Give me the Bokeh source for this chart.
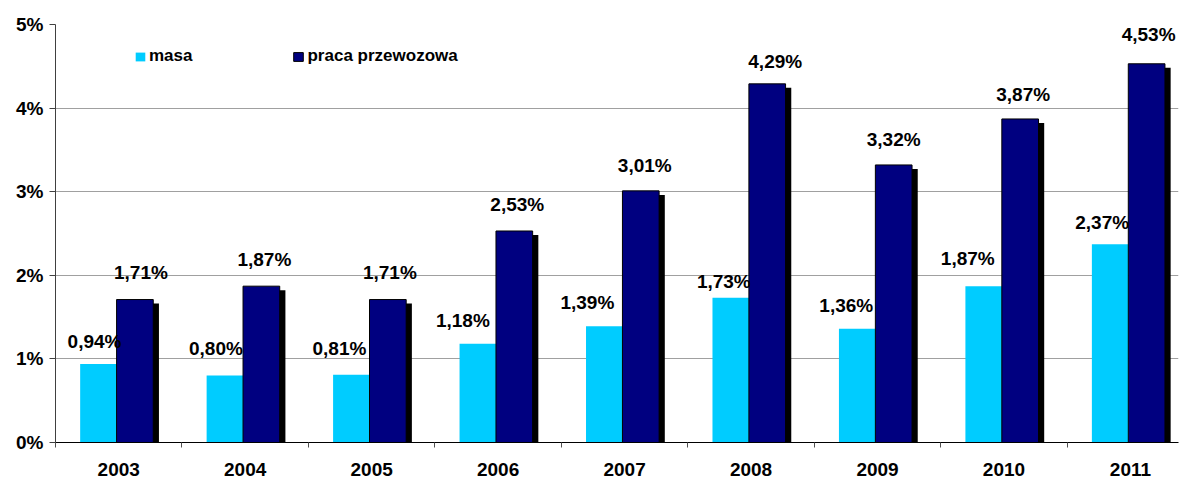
from bokeh.plotting import figure
from bokeh.models import (ColumnDataSource, Range1d, FixedTicker, PrintfTickFormatter,
                          Legend, LegendItem, LinearAxis)
from bokeh.core.properties import value
from bokeh.embed import file_html
from bokeh.resources import INLINE

# Annual shares (%) - cargo mass and transport work
years = ["2003", "2004", "2005", "2006", "2007", "2008", "2009", "2010", "2011"]
masa = [0.94, 0.80, 0.81, 1.18, 1.39, 1.73, 1.36, 1.87, 2.37]
praca = [1.71, 1.87, 1.71, 2.53, 3.01, 4.29, 3.32, 3.87, 4.53]
y_ticks = [0, 1, 2, 3, 4, 5]

# hand-placed nudges of the value labels (screen px, relative to bar top centre)
masa_lbl_dx = [-4, -9, -12, -15, -17, -7, -11, -16, -8]
masa_lbl_dy = [-22, -27, -26, -23, -24, -16, -23, -28, -22]
praca_lbl_dx = [6, 3, 2, 3, 4, 8, 0, 3, 2]
praca_lbl_dy = [-27, -27, -27, -26, -25, -22, -25, -24, -29]

FONT = "Liberation Sans"
LIGHT = "#00CCFF"
DARK = "#000080"

# bar geometry in category units
BAR_W = 0.29
MASA_OFF = -0.16
PRACA_OFF = 0.128
SHADOW_DX = 0.045
SHADOW_DY = 0.048


def fmt(v):
    return f"{v:.2f}".replace(".", ",") + "%"


centers = [i + 0.5 for i in range(len(years))]
src = ColumnDataSource(dict(
    x_masa=[c + MASA_OFF for c in centers],
    x_praca=[c + PRACA_OFF for c in centers],
    x_shadow=[c + PRACA_OFF + SHADOW_DX for c in centers],
    masa=masa,
    praca=praca,
    praca_shadow=[v - SHADOW_DY for v in praca],
    masa_lbl=[fmt(v) for v in masa],
    praca_lbl=[fmt(v) for v in praca],
    masa_dx=masa_lbl_dx, masa_dy=masa_lbl_dy,
    praca_dx=praca_lbl_dx, praca_dy=praca_lbl_dy,
))

p = figure(width=1181, height=478, output_backend="svg", toolbar_location=None,
           x_range=Range1d(0, 8.88), y_range=Range1d(0, 5),
           x_axis_location=None, y_axis_location=None,
           min_border_left=55, min_border_right=3, min_border_top=24, min_border_bottom=36)
p.outline_line_color = None
p.background_fill_color = "white"
p.border_fill_color = "white"

# axes
yax = LinearAxis(ticker=FixedTicker(ticks=y_ticks), formatter=PrintfTickFormatter(format="%d%%"))
yax.axis_line_color = "#404040"
yax.major_tick_line_color = "#404040"
yax.major_tick_out = 6
yax.major_tick_in = 0
yax.minor_tick_line_color = None
yax.major_label_standoff = 6
yax.major_label_text_font = FONT
yax.major_label_text_font_style = "bold"
yax.major_label_text_font_size = "19px"
yax.major_label_text_color = "black"
p.add_layout(yax, "left")

xax = LinearAxis(ticker=FixedTicker(ticks=centers, minor_ticks=list(range(len(years) + 1))))
xax.major_label_overrides = {c: y for c, y in zip(centers, years)}
xax.axis_line_color = "black"
xax.major_tick_line_color = None
xax.major_tick_out = 0
xax.major_tick_in = 0
xax.minor_tick_line_color = "#505050"
xax.minor_tick_out = 5
xax.minor_tick_in = 0
xax.major_label_standoff = 15
xax.major_label_text_font = FONT
xax.major_label_text_font_style = "bold"
xax.major_label_text_font_size = "19px"
xax.major_label_text_color = "black"
p.add_layout(xax, "below")

p.xgrid.visible = False
p.ygrid.ticker = FixedTicker(ticks=y_ticks)
p.ygrid.grid_line_color = "#A0A0A0"
p.ygrid.grid_line_width = 1

# bars
r_masa = p.vbar(x="x_masa", top="masa", width=BAR_W, bottom=0, source=src,
                fill_color=LIGHT, line_color=None)
p.vbar(x="x_shadow", top="praca_shadow", width=BAR_W, bottom=0, source=src,
       fill_color="black", line_color=None)
r_praca = p.vbar(x="x_praca", top="praca", width=BAR_W, bottom=0, source=src,
                 fill_color=DARK, line_color="black", line_width=1)

# value labels
p.text(x="x_masa", y="masa", text="masa_lbl", source=src, x_offset="masa_dx", y_offset="masa_dy",
       text_align="center", text_baseline="alphabetic", text_font=value(FONT),
       text_font_style="bold", text_font_size="19px", text_color="black")
p.text(x="x_praca", y="praca", text="praca_lbl", source=src, x_offset="praca_dx", y_offset="praca_dy",
       text_align="center", text_baseline="alphabetic", text_font=value(FONT),
       text_font_style="bold", text_font_size="19px", text_color="black")

legend = Legend(items=[LegendItem(label="masa", renderers=[r_masa]),
                       LegendItem(label="praca przewozowa", renderers=[r_praca])],
                orientation="horizontal", location=(79, 376),
                glyph_width=12, glyph_height=11, label_standoff=3, spacing=100,
                padding=0, margin=0, label_height=11,
                background_fill_alpha=0, border_line_color=None,
                label_text_font=FONT, label_text_font_style="bold",
                label_text_font_size="17px", label_text_color="black")
p.add_layout(legend, "center")

open("out.html", "w").write(file_html(p, INLINE))
